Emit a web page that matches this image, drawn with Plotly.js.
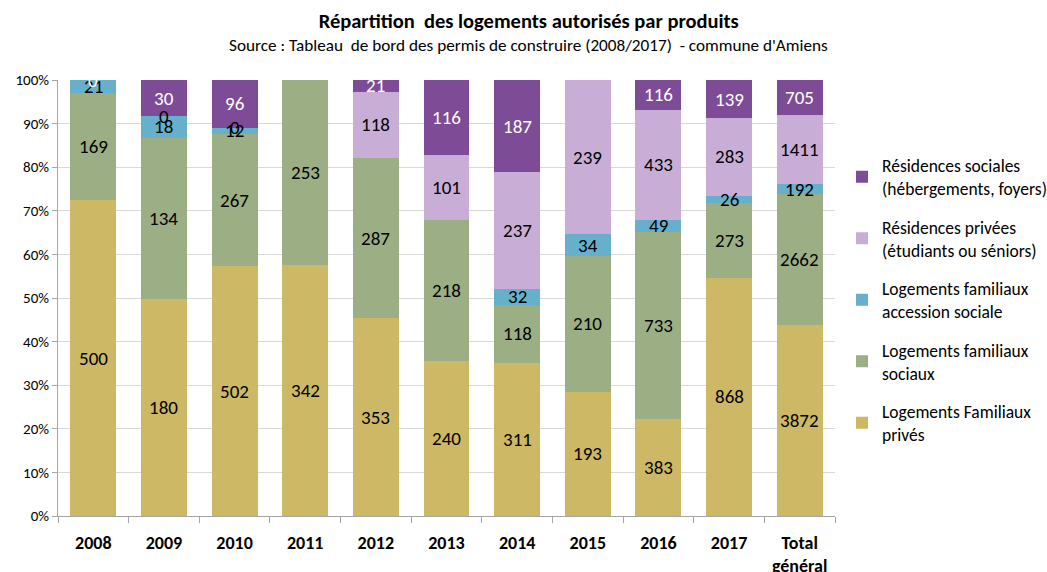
<!DOCTYPE html>
<html><head><meta charset="utf-8">
<script src="https://cdn.plot.ly/plotly-3.0.1.min.js"></script>
<style>html,body{margin:0;padding:0;background:#fff}#chart{width:1047px;height:572px}</style>
</head><body><div id="chart"></div>
<script>
const categories = ["2008","2009","2010","2011","2012","2013","2014","2015","2016","2017","Total général"];
const tickLabels = ["2008","2009","2010","2011","2012","2013","2014","2015","2016","2017","Total<br>général"];
const familiauxPrives = [500,180,502,342,353,240,311,193,383,868,3872];
const familiauxSociaux = [169,134,267,253,287,218,118,210,733,273,2662];
const accessionSociale = [21,18,12,null,null,null,32,34,49,26,192];
const residencesPrivees = [null,0,0,null,118,101,237,239,433,283,1411];
const residencesSociales = [0,30,96,null,21,116,187,null,116,139,705];

const seriesNames = ["Logements Familiaux<br>privés","Logements familiaux<br>sociaux","Logements familiaux<br>accession sociale","Résidences privées<br>(étudiants ou séniors)","Résidences sociales<br>(hébergements, foyers)"];
const seriesData = [familiauxPrives, familiauxSociaux, accessionSociale, residencesPrivees, residencesSociales];
const colors = ["#CDB866","#9CAF84","#67B0CB","#C8AED6","#7E4C97"];
const labelColors = ["#000","#000","#000","#000","#fff"];
const FONT = 'Carlito, Lato, sans-serif';

const traces = seriesData.map((vals,i)=>({
  type:'bar', x:categories, y:vals.map(v=>v===null?0:v), name:seriesNames[i],
  marker:{color:colors[i], line:{width:0}}, legendgroup:'g'+i, legendrank:seriesData.length-i,
  textposition:'none', hoverinfo:'x+y+name'
}));

const totals = categories.map((c,j)=>seriesData.reduce((s,a)=>s+(a[j]||0),0));
const annotations = [];
categories.forEach((c,j)=>{
  let cum = 0;
  seriesData.forEach((vals,i)=>{
    const v = vals[j];
    if (v === null) return;
    const pct = v/totals[j]*100;
    annotations.push({x:j, y:cum+pct/2, xref:'x', yref:'y', text:String(v), showarrow:false,
      font:{family:FONT, size:19, color:labelColors[i]}});
    cum += pct;
  });
});
annotations.push({xref:'paper', yref:'paper', x:0.605, y:1.0, yshift:35, xanchor:'center', yanchor:'middle',
  text:"Source : Tableau  de bord des permis de construire (2008/2017)  - commune d'Amiens", showarrow:false,
  font:{family:FONT, size:17.2, color:'#000'}});

const layout = {
  width:1047, height:572,
  margin:{l:58, r:212, t:80, b:56, autoexpand:false},
  paper_bgcolor:'#fff', plot_bgcolor:'#fff',
  font:{family:FONT, color:'#000'},
  title:{text:"<b>Répartition  des logements autorisés par produits</b>", x:0.505, xanchor:'center', y:0.963, yanchor:'middle',
    font:{family:FONT, size:20.5, color:'#000'}},
  barmode:'stack', barnorm:'percent', bargap:0.35,
  xaxis:{type:'category', range:[-0.5, categories.length-0.5], autorange:false, tickmode:'array', tickvals:categories, ticktext:tickLabels, tickangle:0,
    tickfont:{family:FONT, size:18, color:'#000', weight:'bold'}, showline:true, linecolor:'#a6a6a6', ticklabelstandoff:10,
    ticks:'outside', tickson:'boundaries', ticklen:6, tickcolor:'#a6a6a6', showgrid:false, fixedrange:true, automargin:false},
  yaxis:{range:[0,100], autorange:false, tickvals:[0,10,20,30,40,50,60,70,80,90,100], ticktext:["0%","10%","20%","30%","40%","50%","60%","70%","80%","90%","100%"],
    tickfont:{family:FONT, size:15, color:'#000'}, showline:true, linecolor:'#a6a6a6', ticks:'outside', ticklen:5, tickcolor:'#a6a6a6',
    gridcolor:'#d9d9d9', gridwidth:1, zeroline:false, fixedrange:true, automargin:false},
  legend:{x:1.009, xanchor:'left', y:0.845, yanchor:'top', traceorder:'grouped', tracegroupgap:13,
    font:{family:FONT, size:17.5, color:'#000'}, itemwidth:30},
  annotations:annotations,
  showlegend:true
};
Plotly.newPlot('chart', traces, layout, {displayModeBar:false, staticPlot:true});
</script></body></html>
